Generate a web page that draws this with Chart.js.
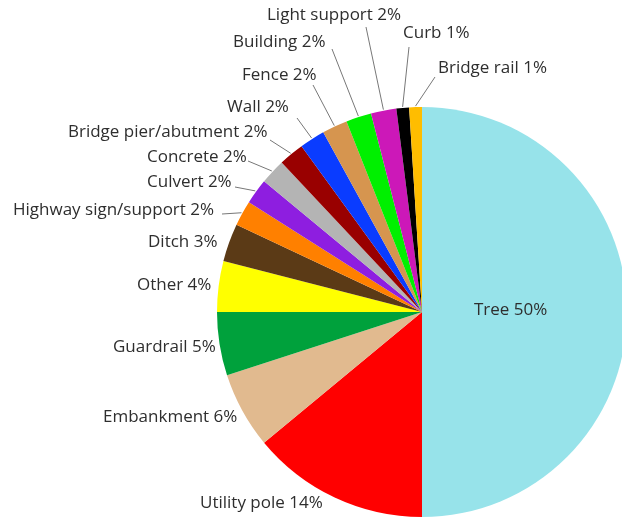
<!DOCTYPE html>
<html>
<head>
<meta charset="utf-8">
<script src="https://cdn.jsdelivr.net/npm/chart.js@4"></script>
<style>
  html, body { margin: 0; padding: 0; background: #fff; overflow: hidden; }
  #wrap { width: 640px; height: 517px; }
</style>
</head>
<body>
<div id="wrap"><canvas id="pieChart" width="640" height="517"></canvas></div>
<script>
// Crash object categories and shares (%)
var categories = ['Tree', 'Utility pole', 'Embankment', 'Guardrail', 'Other', 'Ditch',
    'Highway sign/support', 'Culvert', 'Concrete', 'Bridge pier/abutment', 'Wall',
    'Fence', 'Building', 'Light support', 'Curb', 'Bridge rail'];
var shares = [50, 14, 6, 5, 4, 3, 2, 2, 2, 2, 2, 2, 2, 2, 1, 1];
var sliceColors = ['#97e3ea', '#ff0000', '#e1ba8f', '#00a13c', '#ffff00', '#5b3a16',
    '#ff8000', '#8e1ee0', '#b4b4b4', '#990000', '#0a3cff',
    '#d6954f', '#00f000', '#cc18b8', '#000000', '#ffbd00'];

// Label placement: text left edge / vertical centre, optional leader start
var labelSpots = [
    { x: 474, y: 310 },
    { x: 200, y: 503 },
    { x: 103, y: 417 },
    { x: 113, y: 347 },
    { x: 137, y: 285 },
    { x: 148, y: 242 },
    { x: 13, y: 210, lx: 222, ly: 214 },
    { x: 147, y: 182, lx: 235, ly: 187 },
    { x: 147, y: 157, lx: 248, ly: 161 },
    { x: 68, y: 132, lx: 270, ly: 140 },
    { x: 227, y: 107, lx: 297, ly: 118 },
    { x: 242, y: 75, lx: 313, ly: 85 },
    { x: 233, y: 42, lx: 332, ly: 49 },
    { x: 267, y: 15, lx: 366, ly: 27 },
    { x: 403, y: 33, lx: 409, ly: 47 },
    { x: 438, y: 68, lx: 435, ly: 77 }
];

var pieLabels = {
    id: 'pieLabels',
    afterDraw: function (chart) {
        var ctx = chart.ctx;
        var arcs = chart.getDatasetMeta(0).data;
        ctx.save();
        ctx.font = '17px "Open Sans", Lato, sans-serif';
        ctx.textBaseline = 'middle';
        ctx.textAlign = 'left';
        arcs.forEach(function (arc, i) {
            var p = arc.getProps(['x', 'y', 'startAngle', 'endAngle', 'outerRadius'], true);
            var spot = labelSpots[i];
            if (spot.lx !== undefined) {
                var mid = (p.startAngle + p.endAngle) / 2;
                var ex = p.x + Math.cos(mid) * (p.outerRadius + 1);
                var ey = p.y + Math.sin(mid) * (p.outerRadius + 1);
                ctx.strokeStyle = '#777';
                ctx.lineWidth = 1;
                ctx.beginPath();
                ctx.moveTo(spot.lx, spot.ly);
                ctx.lineTo(ex, ey);
                ctx.stroke();
            }
            ctx.fillStyle = '#2e2e2e';
            ctx.fillText(categories[i] + ' ' + shares[i] + '%', spot.x, spot.y);
        });
        ctx.restore();
    }
};

var pieCtx = document.getElementById('pieChart').getContext('2d');
var pieChart = new Chart(pieCtx, {
    type: 'pie',
    data: {
        labels: categories,
        datasets: [{
            data: shares,
            backgroundColor: sliceColors,
            borderWidth: 0
        }]
    },
    options: {
        responsive: false,
        animation: false,
        layout: { padding: { left: 217, top: 107, right: 13, bottom: 0 } },
        plugins: {
            legend: { display: false },
            tooltip: { enabled: false }
        }
    },
    plugins: [pieLabels]
});
</script>
</body>
</html>
